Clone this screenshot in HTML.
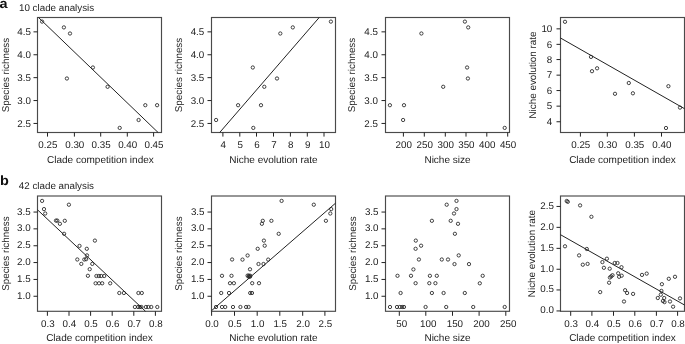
<!DOCTYPE html>
<html><head><meta charset="utf-8"><title>Clade analysis</title>
<style>
html,body{margin:0;padding:0;background:#fff;}
body{width:685px;height:344px;overflow:hidden;}
svg{display:block;will-change:transform;}
text{font-family:"Liberation Sans",sans-serif;text-rendering:geometricPrecision;font-size:9.8px;fill:#222;}
circle{fill:none;stroke:#222;stroke-width:0.85;}
.lbl{font-weight:bold;font-size:13.5px;fill:#111;}
.t{font-size:10px;}
.yl{font-size:9.85px;}
</style></head>
<body>
<svg width="685" height="344" viewBox="0 0 685 344">
<text class="lbl" transform="translate(-0.5,7.75) scale(1.07,1)">a</text>
<text x="19" y="10.9">10 clade analysis</text>
<text class="lbl" transform="translate(0.1,184.75) scale(1.07,1)">b</text>
<text x="18.8" y="188.8">42 clade analysis</text>
<rect x="37.5" y="17.5" width="124" height="115" fill="none" stroke="#4a4a4a" stroke-width="1.15"/>
<line x1="38.5" y1="17.5" x2="158.1" y2="132.5" stroke="#222" stroke-width="1.0"/>
<line x1="47.5" y1="132.5" x2="47.5" y2="136.6" stroke="#222" stroke-width="1.0"/>
<text x="47.9" y="147.6" text-anchor="middle">0.25</text>
<line x1="74.4" y1="132.5" x2="74.4" y2="136.6" stroke="#222" stroke-width="1.0"/>
<text x="74.8" y="147.6" text-anchor="middle">0.30</text>
<line x1="100.7" y1="132.5" x2="100.7" y2="136.6" stroke="#222" stroke-width="1.0"/>
<text x="101.1" y="147.6" text-anchor="middle">0.35</text>
<line x1="127.3" y1="132.5" x2="127.3" y2="136.6" stroke="#222" stroke-width="1.0"/>
<text x="127.7" y="147.6" text-anchor="middle">0.40</text>
<line x1="153.6" y1="132.5" x2="153.6" y2="136.6" stroke="#222" stroke-width="1.0"/>
<text x="154" y="147.6" text-anchor="middle">0.45</text>
<line x1="33.5" y1="123.45" x2="37.5" y2="123.45" stroke="#222" stroke-width="1.0"/>
<text x="30.9" y="126.75" text-anchor="end">2.5</text>
<line x1="33.5" y1="100.55" x2="37.5" y2="100.55" stroke="#222" stroke-width="1.0"/>
<text x="30.9" y="103.85" text-anchor="end">3.0</text>
<line x1="33.5" y1="77.65" x2="37.5" y2="77.65" stroke="#222" stroke-width="1.0"/>
<text x="30.9" y="80.95" text-anchor="end">3.5</text>
<line x1="33.5" y1="54.75" x2="37.5" y2="54.75" stroke="#222" stroke-width="1.0"/>
<text x="30.9" y="58.05" text-anchor="end">4.0</text>
<line x1="33.5" y1="31.85" x2="37.5" y2="31.85" stroke="#222" stroke-width="1.0"/>
<text x="30.9" y="35.15" text-anchor="end">4.5</text>
<text class="t" x="100.4" y="163" text-anchor="middle">Clade competition index</text>
<text class="yl" transform="translate(9,75) rotate(-90)" x="0" y="0" text-anchor="middle">Species richness</text>
<circle cx="42.1" cy="21.6" r="1.65"/>
<circle cx="63.9" cy="27.4" r="1.65"/>
<circle cx="70" cy="33.5" r="1.65"/>
<circle cx="92.9" cy="67.5" r="1.65"/>
<circle cx="66.9" cy="78.5" r="1.65"/>
<circle cx="107.6" cy="86.8" r="1.65"/>
<circle cx="145.3" cy="105.2" r="1.65"/>
<circle cx="157.1" cy="105.2" r="1.65"/>
<circle cx="138.6" cy="120" r="1.65"/>
<circle cx="119.7" cy="127.9" r="1.65"/>
<rect x="211.5" y="17.5" width="124" height="115" fill="none" stroke="#4a4a4a" stroke-width="1.15"/>
<line x1="219.7" y1="132.5" x2="319.2" y2="17.5" stroke="#222" stroke-width="1.0"/>
<line x1="222.9" y1="132.5" x2="222.9" y2="136.6" stroke="#222" stroke-width="1.0"/>
<text x="223.3" y="147.6" text-anchor="middle">4</text>
<line x1="239.8" y1="132.5" x2="239.8" y2="136.6" stroke="#222" stroke-width="1.0"/>
<text x="240.2" y="147.6" text-anchor="middle">5</text>
<line x1="256.5" y1="132.5" x2="256.5" y2="136.6" stroke="#222" stroke-width="1.0"/>
<text x="256.9" y="147.6" text-anchor="middle">6</text>
<line x1="273.5" y1="132.5" x2="273.5" y2="136.6" stroke="#222" stroke-width="1.0"/>
<text x="273.9" y="147.6" text-anchor="middle">7</text>
<line x1="290.4" y1="132.5" x2="290.4" y2="136.6" stroke="#222" stroke-width="1.0"/>
<text x="290.8" y="147.6" text-anchor="middle">8</text>
<line x1="307.3" y1="132.5" x2="307.3" y2="136.6" stroke="#222" stroke-width="1.0"/>
<text x="307.7" y="147.6" text-anchor="middle">9</text>
<line x1="324" y1="132.5" x2="324" y2="136.6" stroke="#222" stroke-width="1.0"/>
<text x="324.4" y="147.6" text-anchor="middle">10</text>
<line x1="207.5" y1="123.45" x2="211.5" y2="123.45" stroke="#222" stroke-width="1.0"/>
<text x="204.3" y="126.75" text-anchor="end">2.5</text>
<line x1="207.5" y1="100.55" x2="211.5" y2="100.55" stroke="#222" stroke-width="1.0"/>
<text x="204.3" y="103.85" text-anchor="end">3.0</text>
<line x1="207.5" y1="77.65" x2="211.5" y2="77.65" stroke="#222" stroke-width="1.0"/>
<text x="204.3" y="80.95" text-anchor="end">3.5</text>
<line x1="207.5" y1="54.75" x2="211.5" y2="54.75" stroke="#222" stroke-width="1.0"/>
<text x="204.3" y="58.05" text-anchor="end">4.0</text>
<line x1="207.5" y1="31.85" x2="211.5" y2="31.85" stroke="#222" stroke-width="1.0"/>
<text x="204.3" y="35.15" text-anchor="end">4.5</text>
<text class="t" x="273.5" y="163" text-anchor="middle">Niche evolution rate</text>
<text class="yl" transform="translate(182,75) rotate(-90)" x="0" y="0" text-anchor="middle">Species richness</text>
<circle cx="216.1" cy="120" r="1.65"/>
<circle cx="238.1" cy="105.2" r="1.65"/>
<circle cx="261" cy="105.2" r="1.65"/>
<circle cx="264.3" cy="86.8" r="1.65"/>
<circle cx="253.3" cy="127.9" r="1.65"/>
<circle cx="252.8" cy="67.5" r="1.65"/>
<circle cx="280.3" cy="33.5" r="1.65"/>
<circle cx="292.8" cy="27.4" r="1.65"/>
<circle cx="330.9" cy="21.6" r="1.65"/>
<circle cx="277" cy="78.5" r="1.65"/>
<rect x="385.5" y="17.5" width="124" height="115" fill="none" stroke="#4a4a4a" stroke-width="1.15"/>
<line x1="403.4" y1="132.5" x2="403.4" y2="136.6" stroke="#222" stroke-width="1.0"/>
<text x="403.8" y="147.6" text-anchor="middle">200</text>
<line x1="424.3" y1="132.5" x2="424.3" y2="136.6" stroke="#222" stroke-width="1.0"/>
<text x="424.7" y="147.6" text-anchor="middle">250</text>
<line x1="445.3" y1="132.5" x2="445.3" y2="136.6" stroke="#222" stroke-width="1.0"/>
<text x="445.7" y="147.6" text-anchor="middle">300</text>
<line x1="466" y1="132.5" x2="466" y2="136.6" stroke="#222" stroke-width="1.0"/>
<text x="466.4" y="147.6" text-anchor="middle">350</text>
<line x1="486.8" y1="132.5" x2="486.8" y2="136.6" stroke="#222" stroke-width="1.0"/>
<text x="487.2" y="147.6" text-anchor="middle">400</text>
<line x1="507.7" y1="132.5" x2="507.7" y2="136.6" stroke="#222" stroke-width="1.0"/>
<text x="508.1" y="147.6" text-anchor="middle">450</text>
<line x1="381.5" y1="123.45" x2="385.5" y2="123.45" stroke="#222" stroke-width="1.0"/>
<text x="377.9" y="126.75" text-anchor="end">2.5</text>
<line x1="381.5" y1="100.55" x2="385.5" y2="100.55" stroke="#222" stroke-width="1.0"/>
<text x="377.9" y="103.85" text-anchor="end">3.0</text>
<line x1="381.5" y1="77.65" x2="385.5" y2="77.65" stroke="#222" stroke-width="1.0"/>
<text x="377.9" y="80.95" text-anchor="end">3.5</text>
<line x1="381.5" y1="54.75" x2="385.5" y2="54.75" stroke="#222" stroke-width="1.0"/>
<text x="377.9" y="58.05" text-anchor="end">4.0</text>
<line x1="381.5" y1="31.85" x2="385.5" y2="31.85" stroke="#222" stroke-width="1.0"/>
<text x="377.9" y="35.15" text-anchor="end">4.5</text>
<text class="t" x="447.5" y="163" text-anchor="middle">Niche size</text>
<text class="yl" transform="translate(354.9,75) rotate(-90)" x="0" y="0" text-anchor="middle">Species richness</text>
<circle cx="421.4" cy="33.5" r="1.65"/>
<circle cx="464.9" cy="21.6" r="1.65"/>
<circle cx="468.2" cy="27.4" r="1.65"/>
<circle cx="467.1" cy="67.5" r="1.65"/>
<circle cx="467.9" cy="78.5" r="1.65"/>
<circle cx="443.2" cy="86.8" r="1.65"/>
<circle cx="389.9" cy="105.2" r="1.65"/>
<circle cx="404" cy="105.2" r="1.65"/>
<circle cx="403.1" cy="120" r="1.65"/>
<circle cx="504.7" cy="127.9" r="1.65"/>
<rect x="560.5" y="17.5" width="124" height="115" fill="none" stroke="#4a4a4a" stroke-width="1.15"/>
<line x1="560.5" y1="38" x2="684.5" y2="108.7" stroke="#222" stroke-width="1.0"/>
<line x1="580.4" y1="132.5" x2="580.4" y2="136.6" stroke="#222" stroke-width="1.0"/>
<text x="580.8" y="147.6" text-anchor="middle">0.25</text>
<line x1="607.3" y1="132.5" x2="607.3" y2="136.6" stroke="#222" stroke-width="1.0"/>
<text x="607.7" y="147.6" text-anchor="middle">0.30</text>
<line x1="634.4" y1="132.5" x2="634.4" y2="136.6" stroke="#222" stroke-width="1.0"/>
<text x="634.8" y="147.6" text-anchor="middle">0.35</text>
<line x1="661.5" y1="132.5" x2="661.5" y2="136.6" stroke="#222" stroke-width="1.0"/>
<text x="661.9" y="147.6" text-anchor="middle">0.40</text>
<line x1="556.5" y1="121.75" x2="560.5" y2="121.75" stroke="#222" stroke-width="1.0"/>
<text x="552.3" y="125.05" text-anchor="end">4</text>
<line x1="556.5" y1="106.15" x2="560.5" y2="106.15" stroke="#222" stroke-width="1.0"/>
<text x="552.3" y="109.45" text-anchor="end">5</text>
<line x1="556.5" y1="90.55" x2="560.5" y2="90.55" stroke="#222" stroke-width="1.0"/>
<text x="552.3" y="93.85" text-anchor="end">6</text>
<line x1="556.5" y1="75.15" x2="560.5" y2="75.15" stroke="#222" stroke-width="1.0"/>
<text x="552.3" y="78.45" text-anchor="end">7</text>
<line x1="556.5" y1="59.55" x2="560.5" y2="59.55" stroke="#222" stroke-width="1.0"/>
<text x="552.3" y="62.85" text-anchor="end">8</text>
<line x1="556.5" y1="44.35" x2="560.5" y2="44.35" stroke="#222" stroke-width="1.0"/>
<text x="552.3" y="47.65" text-anchor="end">6</text>
<line x1="556.5" y1="28.85" x2="560.5" y2="28.85" stroke="#222" stroke-width="1.0"/>
<text x="552.3" y="32.15" text-anchor="end">10</text>
<text class="t" x="622.5" y="163" text-anchor="middle">Clade competition index</text>
<text class="yl" transform="translate(535.6,75) rotate(-90)" x="0" y="0" text-anchor="middle">Niche evolution rate</text>
<circle cx="565" cy="21.8" r="1.65"/>
<circle cx="591" cy="56.9" r="1.65"/>
<circle cx="597.1" cy="68.3" r="1.65"/>
<circle cx="592" cy="71.2" r="1.65"/>
<circle cx="615" cy="93.8" r="1.65"/>
<circle cx="628.8" cy="83" r="1.65"/>
<circle cx="632.9" cy="93.3" r="1.65"/>
<circle cx="668.4" cy="86.2" r="1.65"/>
<circle cx="680" cy="107.6" r="1.65"/>
<circle cx="666" cy="128" r="1.65"/>
<rect x="37.5" y="196" width="124" height="115.3" fill="none" stroke="#4a4a4a" stroke-width="1.15"/>
<line x1="37.5" y1="209.8" x2="145.5" y2="311.3" stroke="#222" stroke-width="1.0"/>
<line x1="47.4" y1="311.3" x2="47.4" y2="315.8" stroke="#222" stroke-width="1.0"/>
<text x="47.8" y="326.6" text-anchor="middle">0.3</text>
<line x1="69" y1="311.3" x2="69" y2="315.8" stroke="#222" stroke-width="1.0"/>
<text x="69.4" y="326.6" text-anchor="middle">0.4</text>
<line x1="90.6" y1="311.3" x2="90.6" y2="315.8" stroke="#222" stroke-width="1.0"/>
<text x="91" y="326.6" text-anchor="middle">0.5</text>
<line x1="112.2" y1="311.3" x2="112.2" y2="315.8" stroke="#222" stroke-width="1.0"/>
<text x="112.6" y="326.6" text-anchor="middle">0.6</text>
<line x1="133.8" y1="311.3" x2="133.8" y2="315.8" stroke="#222" stroke-width="1.0"/>
<text x="134.2" y="326.6" text-anchor="middle">0.7</text>
<line x1="155.4" y1="311.3" x2="155.4" y2="315.8" stroke="#222" stroke-width="1.0"/>
<text x="155.8" y="326.6" text-anchor="middle">0.8</text>
<line x1="33.5" y1="296.25" x2="37.5" y2="296.25" stroke="#222" stroke-width="1.0"/>
<text x="30.6" y="298.75" text-anchor="end">1.0</text>
<line x1="33.5" y1="279.45" x2="37.5" y2="279.45" stroke="#222" stroke-width="1.0"/>
<text x="30.6" y="281.95" text-anchor="end">1.5</text>
<line x1="33.5" y1="262.55" x2="37.5" y2="262.55" stroke="#222" stroke-width="1.0"/>
<text x="30.6" y="265.05" text-anchor="end">2.0</text>
<line x1="33.5" y1="245.75" x2="37.5" y2="245.75" stroke="#222" stroke-width="1.0"/>
<text x="30.6" y="248.25" text-anchor="end">2.5</text>
<line x1="33.5" y1="228.85" x2="37.5" y2="228.85" stroke="#222" stroke-width="1.0"/>
<text x="30.6" y="231.35" text-anchor="end">3.0</text>
<line x1="33.5" y1="212.05" x2="37.5" y2="212.05" stroke="#222" stroke-width="1.0"/>
<text x="30.6" y="214.55" text-anchor="end">3.5</text>
<text class="t" x="99.5" y="341.3" text-anchor="middle">Clade competition index</text>
<text class="yl" transform="translate(8.6,253.65) rotate(-90)" x="0" y="0" text-anchor="middle">Species richness</text>
<circle cx="42.1" cy="200.9" r="1.65"/>
<circle cx="44" cy="209.1" r="1.65"/>
<circle cx="45.2" cy="213.5" r="1.65"/>
<circle cx="68.9" cy="204.7" r="1.65"/>
<circle cx="56" cy="220.6" r="1.65"/>
<circle cx="57.3" cy="220.6" r="1.65"/>
<circle cx="59.9" cy="223.8" r="1.65"/>
<circle cx="64.8" cy="220.8" r="1.65"/>
<circle cx="64.1" cy="233.8" r="1.65"/>
<circle cx="79.5" cy="245.9" r="1.65"/>
<circle cx="94.9" cy="240.6" r="1.65"/>
<circle cx="86.8" cy="248.8" r="1.65"/>
<circle cx="87" cy="255.4" r="1.65"/>
<circle cx="77.3" cy="259.5" r="1.65"/>
<circle cx="84.3" cy="259.5" r="1.65"/>
<circle cx="86.1" cy="259.2" r="1.65"/>
<circle cx="81.3" cy="263.9" r="1.65"/>
<circle cx="92.3" cy="263.9" r="1.65"/>
<circle cx="89.7" cy="269.2" r="1.65"/>
<circle cx="87.9" cy="275.8" r="1.65"/>
<circle cx="96.4" cy="276" r="1.65"/>
<circle cx="98.8" cy="276" r="1.65"/>
<circle cx="101.2" cy="276" r="1.65"/>
<circle cx="104.2" cy="276" r="1.65"/>
<circle cx="95.6" cy="283.3" r="1.65"/>
<circle cx="99" cy="283.3" r="1.65"/>
<circle cx="102.2" cy="283.3" r="1.65"/>
<circle cx="110.2" cy="283.3" r="1.65"/>
<circle cx="119.3" cy="293" r="1.65"/>
<circle cx="123.9" cy="293" r="1.65"/>
<circle cx="138.4" cy="293" r="1.65"/>
<circle cx="141.8" cy="293" r="1.65"/>
<circle cx="134.9" cy="307" r="1.65"/>
<circle cx="138.1" cy="307" r="1.65"/>
<circle cx="139.8" cy="307" r="1.65"/>
<circle cx="141.4" cy="307" r="1.65"/>
<circle cx="145.9" cy="307" r="1.65"/>
<circle cx="148.3" cy="307" r="1.65"/>
<circle cx="151.3" cy="307" r="1.65"/>
<circle cx="157.3" cy="307" r="1.65"/>
<rect x="211.5" y="196" width="124" height="115.3" fill="none" stroke="#4a4a4a" stroke-width="1.15"/>
<line x1="211.5" y1="310.7" x2="335.5" y2="203.2" stroke="#222" stroke-width="1.0"/>
<line x1="211.6" y1="311.3" x2="211.6" y2="315.8" stroke="#222" stroke-width="1.0"/>
<text x="212" y="326.6" text-anchor="middle">0.0</text>
<line x1="234.5" y1="311.3" x2="234.5" y2="315.8" stroke="#222" stroke-width="1.0"/>
<text x="234.9" y="326.6" text-anchor="middle">0.5</text>
<line x1="257.2" y1="311.3" x2="257.2" y2="315.8" stroke="#222" stroke-width="1.0"/>
<text x="257.6" y="326.6" text-anchor="middle">1.0</text>
<line x1="279.8" y1="311.3" x2="279.8" y2="315.8" stroke="#222" stroke-width="1.0"/>
<text x="280.2" y="326.6" text-anchor="middle">1.5</text>
<line x1="302.7" y1="311.3" x2="302.7" y2="315.8" stroke="#222" stroke-width="1.0"/>
<text x="303.1" y="326.6" text-anchor="middle">2.0</text>
<line x1="324.9" y1="311.3" x2="324.9" y2="315.8" stroke="#222" stroke-width="1.0"/>
<text x="325.3" y="326.6" text-anchor="middle">2.5</text>
<line x1="207.5" y1="296.25" x2="211.5" y2="296.25" stroke="#222" stroke-width="1.0"/>
<text x="204.5" y="298.75" text-anchor="end">1.0</text>
<line x1="207.5" y1="279.45" x2="211.5" y2="279.45" stroke="#222" stroke-width="1.0"/>
<text x="204.5" y="281.95" text-anchor="end">1.5</text>
<line x1="207.5" y1="262.55" x2="211.5" y2="262.55" stroke="#222" stroke-width="1.0"/>
<text x="204.5" y="265.05" text-anchor="end">2.0</text>
<line x1="207.5" y1="245.75" x2="211.5" y2="245.75" stroke="#222" stroke-width="1.0"/>
<text x="204.5" y="248.25" text-anchor="end">2.5</text>
<line x1="207.5" y1="228.85" x2="211.5" y2="228.85" stroke="#222" stroke-width="1.0"/>
<text x="204.5" y="231.35" text-anchor="end">3.0</text>
<line x1="207.5" y1="212.05" x2="211.5" y2="212.05" stroke="#222" stroke-width="1.0"/>
<text x="204.5" y="214.55" text-anchor="end">3.5</text>
<text class="t" x="273.5" y="341.3" text-anchor="middle">Niche evolution rate</text>
<text class="yl" transform="translate(181.9,253.65) rotate(-90)" x="0" y="0" text-anchor="middle">Species richness</text>
<circle cx="262.8" cy="220.8" r="1.65"/>
<circle cx="261.9" cy="223.8" r="1.65"/>
<circle cx="271.4" cy="220.8" r="1.65"/>
<circle cx="263.9" cy="240.6" r="1.65"/>
<circle cx="264.7" cy="245.7" r="1.65"/>
<circle cx="257.7" cy="248.8" r="1.65"/>
<circle cx="247.6" cy="255.5" r="1.65"/>
<circle cx="281.6" cy="200.9" r="1.65"/>
<circle cx="313.8" cy="204.7" r="1.65"/>
<circle cx="331.2" cy="209.1" r="1.65"/>
<circle cx="330.3" cy="213.5" r="1.65"/>
<circle cx="325.9" cy="220.8" r="1.65"/>
<circle cx="278.7" cy="233.8" r="1.65"/>
<circle cx="232.1" cy="259.5" r="1.65"/>
<circle cx="242.5" cy="259.6" r="1.65"/>
<circle cx="258.5" cy="264" r="1.65"/>
<circle cx="263.5" cy="264" r="1.65"/>
<circle cx="268.2" cy="259.6" r="1.65"/>
<circle cx="250" cy="269.3" r="1.65"/>
<circle cx="222" cy="275.8" r="1.65"/>
<circle cx="231.5" cy="275.8" r="1.65"/>
<circle cx="247.6" cy="275.6" r="1.65"/>
<circle cx="248.9" cy="275.6" r="1.65"/>
<circle cx="250.3" cy="275.8" r="1.65"/>
<circle cx="248.6" cy="276.7" r="1.65"/>
<circle cx="250" cy="276.7" r="1.65"/>
<circle cx="230" cy="283.2" r="1.65"/>
<circle cx="233.9" cy="283.2" r="1.65"/>
<circle cx="252.2" cy="283.2" r="1.65"/>
<circle cx="259" cy="283.2" r="1.65"/>
<circle cx="221.2" cy="293" r="1.65"/>
<circle cx="229" cy="293" r="1.65"/>
<circle cx="250.2" cy="293" r="1.65"/>
<circle cx="252" cy="293" r="1.65"/>
<circle cx="216" cy="307" r="1.65"/>
<circle cx="222" cy="307" r="1.65"/>
<circle cx="225.2" cy="307" r="1.65"/>
<circle cx="233" cy="307" r="1.65"/>
<circle cx="240.4" cy="307" r="1.65"/>
<circle cx="246.1" cy="307" r="1.65"/>
<circle cx="248.6" cy="307" r="1.65"/>
<rect x="385.5" y="196" width="124" height="115.3" fill="none" stroke="#4a4a4a" stroke-width="1.15"/>
<line x1="399.3" y1="311.3" x2="399.3" y2="315.8" stroke="#222" stroke-width="1.0"/>
<text x="401.7" y="326.6" text-anchor="middle">50</text>
<line x1="425.8" y1="311.3" x2="425.8" y2="315.8" stroke="#222" stroke-width="1.0"/>
<text x="428.2" y="326.6" text-anchor="middle">100</text>
<line x1="452.5" y1="311.3" x2="452.5" y2="315.8" stroke="#222" stroke-width="1.0"/>
<text x="454.9" y="326.6" text-anchor="middle">150</text>
<line x1="479.1" y1="311.3" x2="479.1" y2="315.8" stroke="#222" stroke-width="1.0"/>
<text x="481.5" y="326.6" text-anchor="middle">200</text>
<line x1="505.8" y1="311.3" x2="505.8" y2="315.8" stroke="#222" stroke-width="1.0"/>
<text x="508.2" y="326.6" text-anchor="middle">250</text>
<line x1="381.5" y1="296.25" x2="385.5" y2="296.25" stroke="#222" stroke-width="1.0"/>
<text x="378.5" y="298.75" text-anchor="end">1.0</text>
<line x1="381.5" y1="279.45" x2="385.5" y2="279.45" stroke="#222" stroke-width="1.0"/>
<text x="378.5" y="281.95" text-anchor="end">1.5</text>
<line x1="381.5" y1="262.55" x2="385.5" y2="262.55" stroke="#222" stroke-width="1.0"/>
<text x="378.5" y="265.05" text-anchor="end">2.0</text>
<line x1="381.5" y1="245.75" x2="385.5" y2="245.75" stroke="#222" stroke-width="1.0"/>
<text x="378.5" y="248.25" text-anchor="end">2.5</text>
<line x1="381.5" y1="228.85" x2="385.5" y2="228.85" stroke="#222" stroke-width="1.0"/>
<text x="378.5" y="231.35" text-anchor="end">3.0</text>
<line x1="381.5" y1="212.05" x2="385.5" y2="212.05" stroke="#222" stroke-width="1.0"/>
<text x="378.5" y="214.55" text-anchor="end">3.5</text>
<text class="t" x="447.5" y="341.3" text-anchor="middle">Niche size</text>
<text class="yl" transform="translate(355.8,253.65) rotate(-90)" x="0" y="0" text-anchor="middle">Species richness</text>
<circle cx="431.9" cy="220.8" r="1.65"/>
<circle cx="446.7" cy="204.7" r="1.65"/>
<circle cx="415.8" cy="240.6" r="1.65"/>
<circle cx="421.1" cy="245.7" r="1.65"/>
<circle cx="415.6" cy="248.8" r="1.65"/>
<circle cx="456.5" cy="200.9" r="1.65"/>
<circle cx="456.5" cy="209.1" r="1.65"/>
<circle cx="454" cy="213.5" r="1.65"/>
<circle cx="450.7" cy="220.8" r="1.65"/>
<circle cx="458" cy="223.8" r="1.65"/>
<circle cx="454.9" cy="233.8" r="1.65"/>
<circle cx="458.7" cy="255.4" r="1.65"/>
<circle cx="418.9" cy="259.5" r="1.65"/>
<circle cx="441.8" cy="259.5" r="1.65"/>
<circle cx="448" cy="259.5" r="1.65"/>
<circle cx="413.4" cy="269.4" r="1.65"/>
<circle cx="397.5" cy="275.8" r="1.65"/>
<circle cx="411" cy="275.8" r="1.65"/>
<circle cx="429.9" cy="275.8" r="1.65"/>
<circle cx="436.8" cy="275.8" r="1.65"/>
<circle cx="415.6" cy="283.2" r="1.65"/>
<circle cx="429.3" cy="283.2" r="1.65"/>
<circle cx="435.4" cy="283.2" r="1.65"/>
<circle cx="400.6" cy="293" r="1.65"/>
<circle cx="431.9" cy="293" r="1.65"/>
<circle cx="443.6" cy="293" r="1.65"/>
<circle cx="390" cy="307" r="1.65"/>
<circle cx="397" cy="307" r="1.65"/>
<circle cx="399.8" cy="307" r="1.65"/>
<circle cx="402.2" cy="307" r="1.65"/>
<circle cx="404" cy="307" r="1.65"/>
<circle cx="425.6" cy="307" r="1.65"/>
<circle cx="446.2" cy="307" r="1.65"/>
<circle cx="454.5" cy="264.1" r="1.65"/>
<circle cx="469" cy="264.1" r="1.65"/>
<circle cx="482.7" cy="275.8" r="1.65"/>
<circle cx="479.8" cy="283.3" r="1.65"/>
<circle cx="464.8" cy="293" r="1.65"/>
<circle cx="473.2" cy="307" r="1.65"/>
<circle cx="504.7" cy="307" r="1.65"/>
<rect x="560.5" y="196" width="124" height="115.3" fill="none" stroke="#4a4a4a" stroke-width="1.15"/>
<line x1="560.5" y1="234.7" x2="684.5" y2="305" stroke="#222" stroke-width="1.0"/>
<line x1="570.7" y1="311.3" x2="570.7" y2="315.8" stroke="#222" stroke-width="1.0"/>
<text x="571.1" y="326.6" text-anchor="middle">0.3</text>
<line x1="591.9" y1="311.3" x2="591.9" y2="315.8" stroke="#222" stroke-width="1.0"/>
<text x="592.3" y="326.6" text-anchor="middle">0.4</text>
<line x1="613.5" y1="311.3" x2="613.5" y2="315.8" stroke="#222" stroke-width="1.0"/>
<text x="613.9" y="326.6" text-anchor="middle">0.5</text>
<line x1="634.8" y1="311.3" x2="634.8" y2="315.8" stroke="#222" stroke-width="1.0"/>
<text x="635.2" y="326.6" text-anchor="middle">0.6</text>
<line x1="656.4" y1="311.3" x2="656.4" y2="315.8" stroke="#222" stroke-width="1.0"/>
<text x="656.8" y="326.6" text-anchor="middle">0.7</text>
<line x1="677.6" y1="311.3" x2="677.6" y2="315.8" stroke="#222" stroke-width="1.0"/>
<text x="678" y="326.6" text-anchor="middle">0.8</text>
<line x1="556.5" y1="310.95" x2="560.5" y2="310.95" stroke="#222" stroke-width="1.0"/>
<text x="553.9" y="313.45" text-anchor="end">0.0</text>
<line x1="556.5" y1="289.95" x2="560.5" y2="289.95" stroke="#222" stroke-width="1.0"/>
<text x="553.9" y="292.45" text-anchor="end">0.5</text>
<line x1="556.5" y1="269.25" x2="560.5" y2="269.25" stroke="#222" stroke-width="1.0"/>
<text x="553.9" y="271.75" text-anchor="end">1.0</text>
<line x1="556.5" y1="248.35" x2="560.5" y2="248.35" stroke="#222" stroke-width="1.0"/>
<text x="553.9" y="250.85" text-anchor="end">1.5</text>
<line x1="556.5" y1="227.35" x2="560.5" y2="227.35" stroke="#222" stroke-width="1.0"/>
<text x="553.9" y="229.85" text-anchor="end">2.0</text>
<line x1="556.5" y1="206.45" x2="560.5" y2="206.45" stroke="#222" stroke-width="1.0"/>
<text x="553.9" y="208.95" text-anchor="end">2.5</text>
<text class="t" x="622.5" y="341.3" text-anchor="middle">Clade competition index</text>
<text class="yl" transform="translate(534.5,253.65) rotate(-90)" x="0" y="0" text-anchor="middle">Niche evolution rate</text>
<circle cx="566.7" cy="201" r="1.65"/>
<circle cx="567.8" cy="201.8" r="1.65"/>
<circle cx="580.1" cy="205.4" r="1.65"/>
<circle cx="591.4" cy="216.8" r="1.65"/>
<circle cx="565" cy="246.3" r="1.65"/>
<circle cx="586.8" cy="249" r="1.65"/>
<circle cx="579.1" cy="255.4" r="1.65"/>
<circle cx="582.8" cy="264.7" r="1.65"/>
<circle cx="587.6" cy="263.9" r="1.65"/>
<circle cx="602.4" cy="262.1" r="1.65"/>
<circle cx="606.9" cy="258.7" r="1.65"/>
<circle cx="603.9" cy="267.8" r="1.65"/>
<circle cx="609.7" cy="268.7" r="1.65"/>
<circle cx="614.7" cy="263" r="1.65"/>
<circle cx="617.5" cy="263" r="1.65"/>
<circle cx="621.5" cy="267.2" r="1.65"/>
<circle cx="618.2" cy="273.3" r="1.65"/>
<circle cx="621.7" cy="275.7" r="1.65"/>
<circle cx="619.1" cy="276.8" r="1.65"/>
<circle cx="609.9" cy="277.5" r="1.65"/>
<circle cx="611.2" cy="276.4" r="1.65"/>
<circle cx="612.5" cy="275.2" r="1.65"/>
<circle cx="609.1" cy="282.7" r="1.65"/>
<circle cx="600.2" cy="292.1" r="1.65"/>
<circle cx="642" cy="274.9" r="1.65"/>
<circle cx="646.7" cy="273.6" r="1.65"/>
<circle cx="668.8" cy="278.8" r="1.65"/>
<circle cx="675" cy="276.8" r="1.65"/>
<circle cx="661.9" cy="284.2" r="1.65"/>
<circle cx="625.1" cy="290.2" r="1.65"/>
<circle cx="627.1" cy="293" r="1.65"/>
<circle cx="633.1" cy="293.9" r="1.65"/>
<circle cx="624" cy="301.5" r="1.65"/>
<circle cx="661.4" cy="290.9" r="1.65"/>
<circle cx="660.8" cy="294.7" r="1.65"/>
<circle cx="657.8" cy="298" r="1.65"/>
<circle cx="664.2" cy="298" r="1.65"/>
<circle cx="662.9" cy="301" r="1.65"/>
<circle cx="664.5" cy="302.1" r="1.65"/>
<circle cx="670" cy="301.5" r="1.65"/>
<circle cx="673.1" cy="306.7" r="1.65"/>
<circle cx="680" cy="298.4" r="1.65"/>
</svg>
</body></html>
